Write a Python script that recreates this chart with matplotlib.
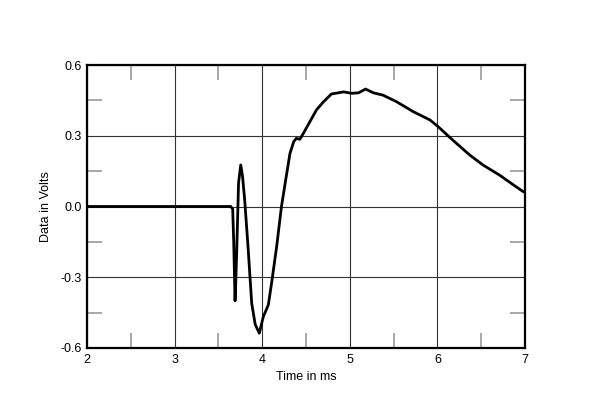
import matplotlib
matplotlib.use("Agg")
import matplotlib.pyplot as plt
from matplotlib.ticker import MultipleLocator

plt.rcParams['font.family'] = ['Liberation Sans', 'DejaVu Sans']

time_ms = [2.0, 3.0, 3.64, 3.663, 3.675, 3.69, 3.70, 3.71, 3.73, 3.755, 3.775, 3.80, 3.84, 3.88, 3.92,
           3.967, 4.013, 4.07, 4.107, 4.165, 4.22, 4.28, 4.317, 4.36, 4.39, 4.43,
           4.47, 4.545, 4.62, 4.70, 4.79, 4.93, 5.02, 5.10, 5.18, 5.27, 5.38, 5.535, 5.725,
           5.915, 6.01, 6.18, 6.37, 6.52, 6.71, 6.87, 6.98, 7.0]
volts = [0.0, 0.0, 0.0, -0.01, -0.15, -0.40, -0.30, -0.18, 0.10, 0.176, 0.13, 0.028, -0.18, -0.41, -0.50,
         -0.537, -0.467, -0.417, -0.325, -0.17, 0.0, 0.14, 0.225, 0.275, 0.289, 0.285,
         0.31, 0.36, 0.41, 0.444, 0.477, 0.486, 0.48, 0.482, 0.498, 0.482, 0.472, 0.444, 0.402,
         0.367, 0.338, 0.28, 0.218, 0.176, 0.133, 0.091, 0.063, 0.06]

x_ticks = [2, 3, 4, 5, 6, 7]
y_ticks = [-0.6, -0.3, 0.0, 0.3, 0.6]
y_tick_labels = ['-0.6', '-0.3', '0.0', '0.3', '0.6']

fig = plt.figure(figsize=(6.0, 4.09), dpi=100)
ax = fig.add_axes([87/600, 1 - 348/409, (525-87)/600, (348-65)/409])

ax.plot(time_ms, volts, color='black', linewidth=2.0, zorder=3)

ax.set_xlim(2, 7)
ax.set_ylim(-0.6, 0.6)
ax.set_xticks(x_ticks)
ax.set_xticklabels([str(t) for t in x_ticks])
ax.set_yticks(y_ticks)
ax.set_yticklabels(y_tick_labels)
ax.xaxis.set_minor_locator(MultipleLocator(0.5))
ax.yaxis.set_minor_locator(MultipleLocator(0.15))

ax.grid(True, which='major', color='#333333', linewidth=0.8)
ax.tick_params(which='major', length=0, labelsize=9, pad=4)
ax.tick_params(which='minor', direction='in', length=11, width=1.2, color='#999999',
               top=True, right=True, bottom=True, left=True)
for s in ax.spines.values():
    s.set_linewidth(1.6)
    s.set_color('black')

ax.set_xlabel('Time in ms', fontsize=9, labelpad=4)
ax.set_ylabel('Data in Volts', fontsize=9, labelpad=6)

fig.savefig('out.png', dpi=100)
